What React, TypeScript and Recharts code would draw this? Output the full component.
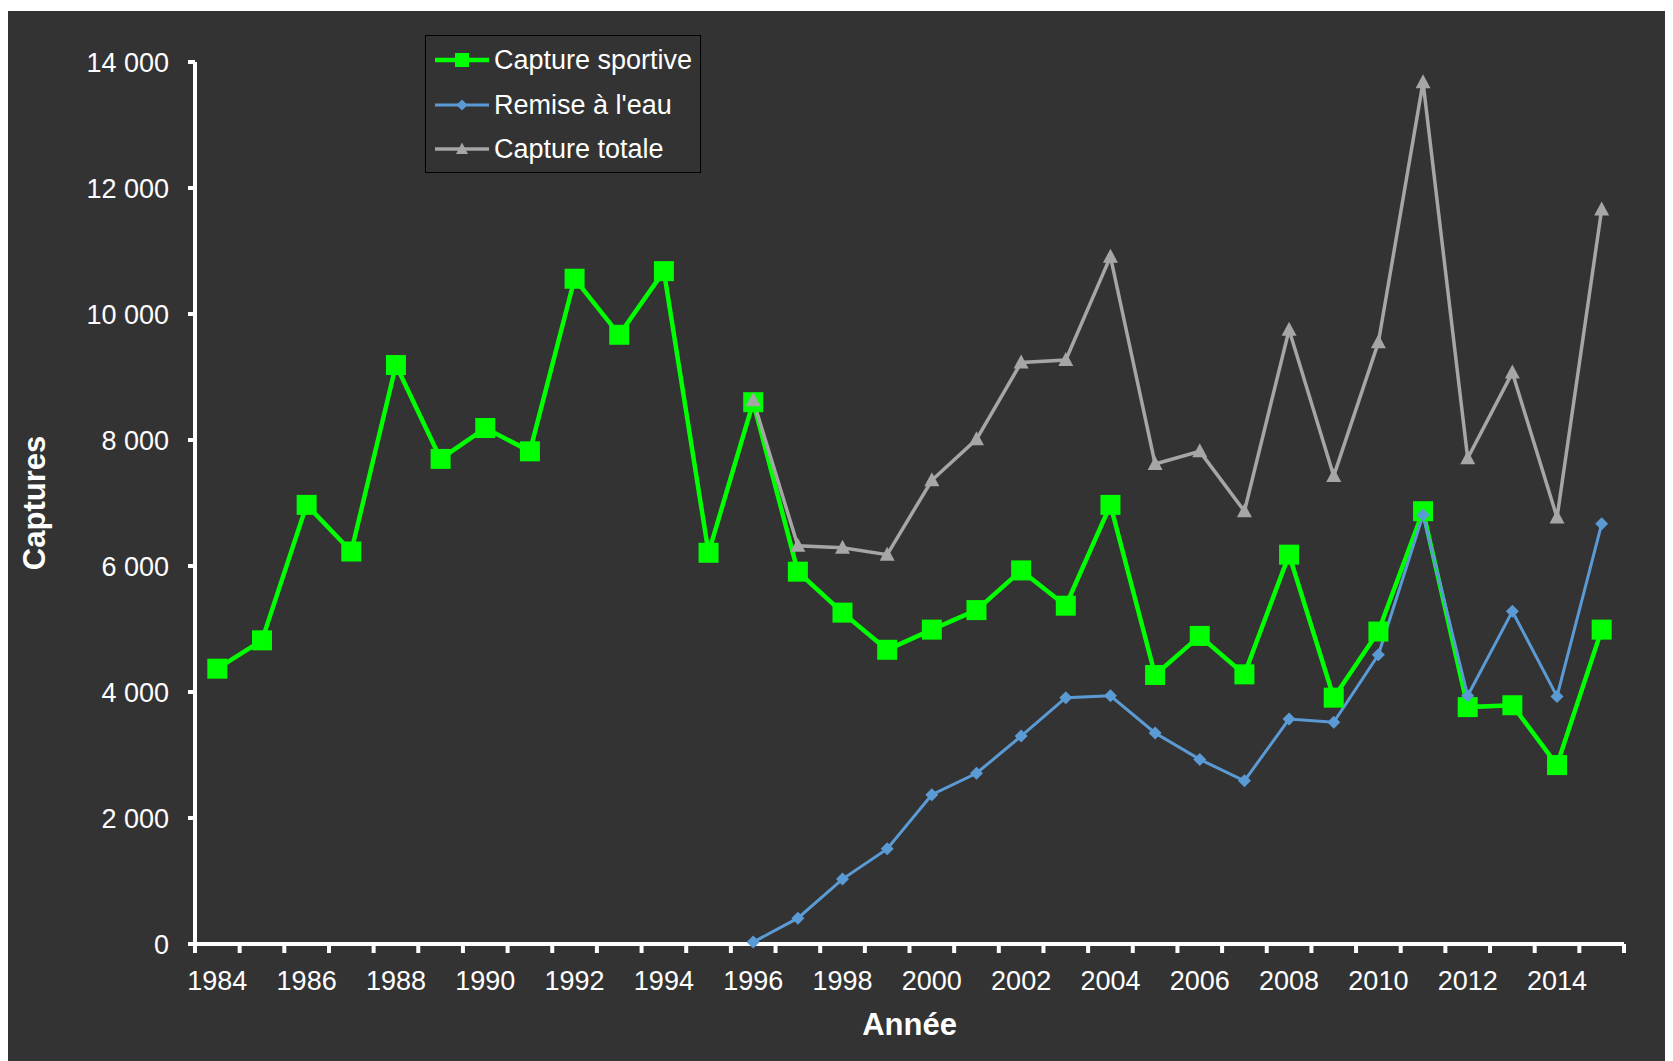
import { LineChart, Line, XAxis, YAxis } from 'recharts';

const YEARS = [
  1984, 1985, 1986, 1987, 1988, 1989, 1990, 1991, 1992, 1993, 1994, 1995, 1996, 1997, 1998, 1999,
  2000, 2001, 2002, 2003, 2004, 2005, 2006, 2007, 2008, 2009, 2010, 2011, 2012, 2013, 2014, 2015,
];

// Capture sportive
const SPORTIVE = [
  4370, 4820, 6970, 6230, 9190, 7700, 8190, 7820, 10560, 9670, 10680, 6210, 8600, 5910, 5260, 4670,
  4990, 5300, 5930, 5370, 6970, 4270, 4890, 4280, 6180, 3910, 4960, 6870, 3760, 3790, 2840, 4990,
];

// Remise à l'eau
const REMISE = [
  null, null, null, null, null, null, null, null, null, null, null, null, 30, 410, 1030, 1510,
  2370, 2710, 3300, 3910, 3940, 3350, 2930, 2590, 3570, 3520, 4590, 6810, 3940, 5280, 3930, 6670,
];

// Capture totale
const TOTALE = [
  null, null, null, null, null, null, null, null, null, null, null, null, 8630, 6320, 6290, 6180,
  7360, 8010, 9230, 9270, 10910, 7620, 7820, 6870, 9750, 7430, 9550, 13680, 7710, 9070, 6770, 11660,
];

const Y_TICKS = [0, 2000, 4000, 6000, 8000, 10000, 12000, 14000];

const GREEN = '#00ff00';
const BLUE = '#5b9bd5';
const GRAY = '#a6a6a6';
const FONT = '"Liberation Sans", Arial, sans-serif';

const data = YEARS.map((year, i) => ({
  year,
  sportive: SPORTIVE[i],
  remise: REMISE[i],
  totale: TOTALE[i],
}));

// tick marks sit between the years, labels on every other year
const X_TICKS = [...YEARS.flatMap((y) => [y - 0.5, y]), YEARS[YEARS.length - 1] + 0.5];

const fmt = (v: number) => String(v).replace(/\B(?=(\d{3})+(?!\d))/g, ' ');

function XTick(props: any) {
  const { x, y, payload } = props;
  const v = payload.value;
  if (!Number.isInteger(v)) {
    return <line x1={x} x2={x} y1={y} y2={y + 9} stroke="#fff" strokeWidth={4} />;
  }
  if (v % 2 !== 0) return <g />;
  return (
    <text x={x} y={y + 26.5} dy="0.71em" textAnchor="middle" fill="#fff" fontSize={27} fontFamily={FONT}>
      {v}
    </text>
  );
}

function YLabel(props: any) {
  const vb = props.viewBox || {};
  const cx = 37;
  const cy = (vb.y ?? 51) + (vb.height ?? 882) / 2;
  return (
    <text
      x={cx}
      y={cy}
      transform={`rotate(-90, ${cx}, ${cy})`}
      textAnchor="middle"
      fill="#fff"
      fontSize={31}
      fontWeight="bold"
      fontFamily={FONT}
    >
      Captures
    </text>
  );
}

const squareDot = (props: any) => {
  const { cx, cy, index, value } = props;
  if (cx == null || cy == null || value == null) return <g key={`s-${index}`} />;
  return <rect key={`s-${index}`} x={cx - 10} y={cy - 10} width={20} height={20} fill={GREEN} />;
};

const diamondDot = (props: any) => {
  const { cx, cy, index, value } = props;
  if (cx == null || cy == null || value == null) return <g key={`d-${index}`} />;
  return (
    <path
      key={`d-${index}`}
      d={`M${cx},${cy - 6.5} L${cx + 6.5},${cy} L${cx},${cy + 6.5} L${cx - 6.5},${cy} Z`}
      fill={BLUE}
    />
  );
};

const triangleDot = (props: any) => {
  const { cx, cy, index, value } = props;
  if (cx == null || cy == null || value == null) return <g key={`t-${index}`} />;
  return (
    <path
      key={`t-${index}`}
      d={`M${cx},${cy - 8} L${cx + 7.5},${cy + 6} L${cx - 7.5},${cy + 6} Z`}
      fill={GRAY}
    />
  );
};

const LEGEND = [
  { name: 'Capture sportive', color: GREEN, width: 4.5, marker: 'square' },
  { name: "Remise à l'eau", color: BLUE, width: 3, marker: 'diamond' },
  { name: 'Capture totale', color: GRAY, width: 3.5, marker: 'triangle' },
];

function LegendBox() {
  const rowCenters = [24, 69, 113];
  return (
    <div
      style={{
        position: 'absolute',
        left: 417,
        top: 24,
        width: 276,
        height: 138,
        border: '1px solid #000',
        background: '#333',
        boxSizing: 'border-box',
      }}
    >
      {LEGEND.map((item, i) => (
        <div
          key={item.name}
          style={{
            position: 'absolute',
            left: 9,
            top: rowCenters[i] - 16,
            height: 32,
            display: 'flex',
            alignItems: 'center',
            whiteSpace: 'nowrap',
          }}
        >
          <svg width={58} height={32}>
            <line x1={0} x2={54} y1={16} y2={16} stroke={item.color} strokeWidth={item.width} />
            {item.marker === 'square' && <rect x={20} y={9} width={14} height={14} fill={item.color} />}
            {item.marker === 'diamond' && <path d="M27,10.5 L32.5,16 L27,21.5 L21.5,16 Z" fill={item.color} />}
            {item.marker === 'triangle' && <path d="M27,9.5 L33,21 L21,21 Z" fill={item.color} />}
          </svg>
          <span style={{ color: '#fff', fontSize: 27, fontFamily: FONT, marginLeft: 1 }}>{item.name}</span>
        </div>
      ))}
    </div>
  );
}

export default function App() {
  return (
    <div style={{ position: 'relative', top: 3, width: 1720, height: 1120, background: '#333', fontFamily: FONT }}>
      <style>{'html, body { overflow: hidden; }'}</style>
      <LineChart width={1665} height={1050} data={data} margin={{ top: 51, right: 49, left: 0, bottom: 0 }}>
        <XAxis
          dataKey="year"
          type="number"
          domain={[YEARS[0] - 0.5, YEARS[YEARS.length - 1] + 0.5]}
          ticks={X_TICKS}
          interval={0}
          tick={XTick}
          tickLine={false}
          tickSize={0}
          tickMargin={0}
          height={117}
          axisLine={{ stroke: '#fff', strokeWidth: 4 }}
          label={{ value: 'Année', position: 'insideBottom', offset: 26, fill: '#fff', fontSize: 31, fontWeight: 'bold', fontFamily: FONT }}
        />
        <YAxis
          domain={[0, 14000]}
          ticks={Y_TICKS}
          interval={0}
          width={187}
          tickFormatter={fmt}
          tick={{ fill: '#fff', fontSize: 27, fontFamily: FONT }}
          tickLine={{ stroke: '#fff', strokeWidth: 4 }}
          tickSize={7}
          tickMargin={19}
          axisLine={{ stroke: '#fff', strokeWidth: 4 }}
          label={YLabel}
        />
        <Line
          dataKey="sportive"
          stroke={GREEN}
          strokeWidth={4.5}
          dot={squareDot}
          activeDot={false}
          isAnimationActive={false}
        />
        <Line
          dataKey="remise"
          stroke={BLUE}
          strokeWidth={3}
          dot={diamondDot}
          activeDot={false}
          isAnimationActive={false}
        />
        <Line
          dataKey="totale"
          stroke={GRAY}
          strokeWidth={3.5}
          dot={triangleDot}
          activeDot={false}
          isAnimationActive={false}
        />
      </LineChart>
      <LegendBox />
    </div>
  );
}
